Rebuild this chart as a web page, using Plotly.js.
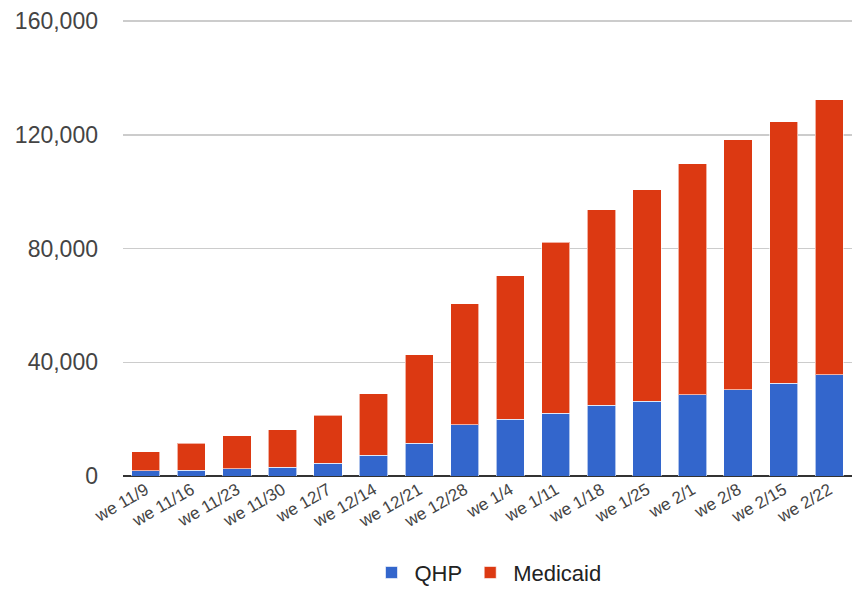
<!DOCTYPE html>
<html>
<head>
<meta charset="utf-8">
<script src="https://cdn.plot.ly/plotly-3.0.1.min.js"></script>
<style>html,body{margin:0;padding:0;background:#fff;}#chart{width:854px;height:597px;}</style>
</head>
<body>
<div id="chart"></div>
<script>
var weeks = ["we 11/9","we 11/16","we 11/23","we 11/30","we 12/7","we 12/14","we 12/21","we 12/28","we 1/4","we 1/11","we 1/18","we 1/25","we 2/1","we 2/8","we 2/15","we 2/22"];
var qhp = [1900,2000,2500,3100,4500,7300,11600,18000,20000,22100,24900,26300,28500,30400,32600,35600];
var medicaid = [6700,9500,11700,13200,16900,21700,31000,42600,50400,60200,68800,74400,81300,87900,92000,96800];
var yTicks = [0,40000,80000,120000,160000];

var traces = [
  {type:'bar', name:'QHP', x:weeks, y:qhp,
   marker:{color:'#3366cc', line:{color:'rgba(255,255,255,0.6)', width:1}}},
  {type:'bar', name:'Medicaid', x:weeks, y:medicaid,
   marker:{color:'#dc3912', line:{color:'rgba(255,255,255,0.6)', width:1}}}
];
var layout = {
  width:854, height:597,
  margin:{l:123, r:2, t:20, b:121},
  barmode:'stack', bargap:0.38,
  paper_bgcolor:'#fff', plot_bgcolor:'#fff',
  font:{family:'"Liberation Sans", Arial, sans-serif', color:'#444'},
  xaxis:{type:'category', tickangle:-30, tickfont:{size:17, color:'#444'},
         showgrid:false, ticks:'', showline:false, zeroline:false, automargin:false},
  yaxis:{range:[0,160400], tickvals:yTicks, tickformat:',d', automargin:false,
         tickfont:{size:23, color:'#444'}, gridcolor:'#cccccc', gridwidth:1.5,
         zeroline:true, zerolinecolor:'#333', zerolinewidth:2,
         ticklabelstandoff:24, showline:false},
  showlegend:true,
  legend:{orientation:'h', x:0.5, xanchor:'center', y:-0.212, yanchor:'middle',
          font:{size:22, color:'#222'}, itemwidth:36, traceorder:'normal'}
};
Plotly.newPlot('chart', traces, layout, {displayModeBar:false, staticPlot:true});
</script>
</body>
</html>
